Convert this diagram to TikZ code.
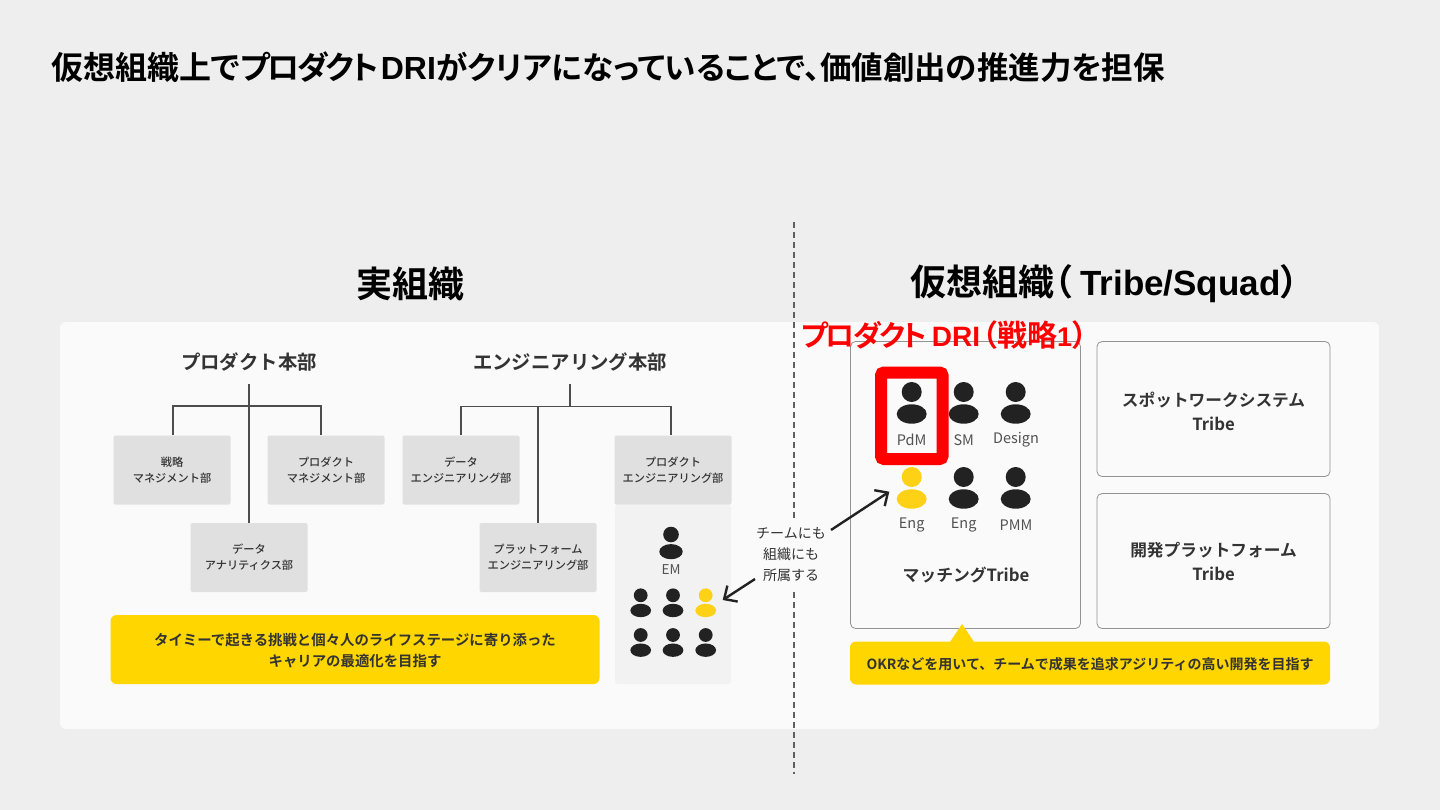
\documentclass[tikz,border=0pt]{standalone}
\usepackage{fontspec}
\setmainfont{Noto Sans CJK JP}
\newfontfamily\jb{Noto Sans CJK JP Bold}
\newfontfamily\jbp[RawFeature=+palt]{Noto Sans CJK JP Bold}
\newfontfamily\jbt[RawFeature=+palt,LetterSpace=-8]{Noto Sans CJK JP Bold}
\newfontfamily\jm{Noto Sans CJK JP Medium}
\newfontfamily\lb{Liberation Sans Bold}
\definecolor{bgc}{HTML}{EEEEEE}
\definecolor{panelc}{HTML}{FAFAFA}
\definecolor{deptc}{HTML}{E0E0E0}
\definecolor{linec}{HTML}{4D4D4D}
\definecolor{inkc}{HTML}{333333}
\definecolor{darkc}{HTML}{222222}
\definecolor{yelc}{HTML}{FFD600}
\definecolor{peryel}{HTML}{FCD116}
\definecolor{teamc}{HTML}{F2F2F2}
\usetikzlibrary{arrows.meta}
\tikzset{
 x=1pt,y=-1pt,
 dept/.style={fill=deptc,rounded corners=2pt,minimum width=117pt,minimum height=69pt,inner sep=0pt,align=center,font=\jm\fontsize{11.2}{16}\selectfont,text=inkc},
 org/.style={draw=linec,line width=1.3pt},
 head/.style={font=\jb\fontsize{19.4}{22}\selectfont,text=inkc,inner sep=0pt},
 big/.style={font=\jb\fontsize{36}{40}\selectfont,text=black,inner sep=0pt},
 tribe/.style={draw=gray!85,fill=panelc,rounded corners=5pt,line width=0.8pt,inner sep=0pt,align=center,font=\jb\fontsize{16.7}{24}\selectfont,text=inkc},
 tribelabel/.style={inner sep=0pt,align=center,font=\jb\fontsize{16.7}{24}\selectfont,text=inkc},
 banner/.style={fill=yelc,rounded corners=6pt,inner sep=0pt,text=inkc},
 bannertext/.style={inner sep=0pt,align=center,text=inkc},
 plabel/.style={font=\fontsize{14.5}{16}\selectfont,text=inkc!85,inner sep=0pt},
 arr/.style={draw=darkc,line width=2.4pt,-{Straight Barb[length=10pt,width=19pt]}},
}
\newcommand{\persona}[4]{% x,y(centre of head),colour,scale
 \fill[#3] (#1,#2) circle[radius=#4*10pt];
 \fill[#3] (#1,#2+#4*22) ellipse[x radius=#4*15pt,y radius=#4*9.7pt];
}
\begin{document}
\begin{tikzpicture}
\useasboundingbox (0,0) rectangle (1440,810);
\fill[bgc] (0,0) rectangle (1440,810);
\fill[panelc,rounded corners=6pt] (60,322) rectangle (1379,729);

\node[anchor=west,inner sep=0pt] (title) at (51,67) {\jbp\fontsize{32}{36}\selectfont 仮想組織上で{\jbt\fontsize{32}{36}\selectfont プロダクト}{\lb\fontsize{32}{36}\selectfont\hspace{2pt}DRI}{\fontsize{31.5}{36}\selectfont がクリアになっていることで、価値創出の推進力を担保}};

% divider
\coordinate (divA) at (794,222);
\coordinate (divB) at (794,774);
\draw[draw=linec!90,line width=1.5pt,dash pattern=on 6pt off 4pt] (divA) -- (divB);

\node[big] (real) at (410,284) {実組織};
\node[big,anchor=west] (virt) at (910,284) {仮想組織{\jbp（}{\lb\fontsize{35}{40}\selectfont\hspace{8pt}Tribe/Squad}{\jbp\hspace{1pt}）}};

% left org
\node[head] (hq1) at (249,362) {プロダクト本部};
\node[head] (hq2) at (570,362) {エンジニアリング本部};
\node[dept] (d1) at (172,470) {戦略\\マネジメント部};
\node[dept] (d2) at (326,470) {プロダクト\\マネジメント部};
\node[dept] (d3) at (249,557.5) {データ\\アナリティクス部};
\node[dept] (d4) at (461,470) {データ\\エンジニアリング部};
\node[dept] (d5) at (538,557.5) {プラットフォーム\\エンジニアリング部};
\node[dept] (d6) at (673,470) {プロダクト\\エンジニアリング部};

\coordinate (j1a) at (173,406);
\coordinate (j1b) at (321,406);
\coordinate (s1) at (249,384);
\draw[org] (s1) -- (d3.north);
\draw[org] (d1.north -| j1a) -- (j1a) -- (j1b) -- (d2.north -| j1b);

\coordinate (s2) at (570,384);
\coordinate (j2) at (570,406.5);
\coordinate (j2a) at (461,406.5);
\coordinate (j2b) at (671,406.5);
\draw[org] (s2) -- (j2);
\draw[org] (d4.north -| j2a) -- (j2a) -- (j2b) -- (d6.north -| j2b);
\draw[org] (538,406.5) -- (d5.north);

% team
\fill[teamc,rounded corners=3pt] (615,505) rectangle (731,684);
\persona{671}{534.5}{darkc}{0.78}
\persona{640.7}{595.3}{darkc}{0.69}
\persona{673}{595.3}{darkc}{0.69}
\persona{705.7}{595.3}{peryel}{0.69}
\persona{640.7}{635}{darkc}{0.69}
\persona{673}{635}{darkc}{0.69}
\persona{705.7}{635}{darkc}{0.69}
\node[plabel,font=\fontsize{13.5}{16}\selectfont] (em) at (671,570) {EM};

\node[banner,minimum width=489pt,minimum height=69pt] (b1) at (355,649.5) {};
\node[bannertext,font=\jb\fontsize{14.4}{21}\selectfont] (b1t) at (355,651) {タイミーで起きる挑戦と個々人のライフステージに寄り添った\\キャリアの最適化を目指す};

% note
\fill[panelc] (750,518) rectangle (834,592);
\node[align=center,inner sep=0pt,font=\fontsize{14}{21}\selectfont,text=inkc] (note) at (791,554.5) {チームにも\\組織にも\\所属する};

% tribes
\node[tribe,minimum width=230pt,minimum height=287pt] (t1) at (965.5,485) {};
\node[tribe,minimum width=233pt,minimum height=135pt] (t2) at (1213.5,409) {};
\node[tribe,minimum width=233pt,minimum height=135pt] (t3) at (1213.5,561) {};
\node[tribelabel] (t2t) at (1213.5,411.5) {スポットワークシステム\\Tribe};
\node[tribelabel] (t3t) at (1213.5,561.5) {開発プラットフォーム\\Tribe};
\node[font=\jb\fontsize{16.8}{20}\selectfont,text=inkc,inner sep=0pt] (mt) at (966,575.5) {マッチングTribe};

\persona{911.7}{392}{darkc}{1}
\persona{963.7}{392}{darkc}{1}
\persona{1015.7}{392}{darkc}{1}
\persona{911.7}{477}{peryel}{1}
\persona{963.7}{477}{darkc}{1}
\persona{1015.7}{477}{darkc}{1}
\node[plabel] (l1) at (911.7,440) {PdM};
\node[plabel] (l2) at (963.7,440) {SM};
\node[plabel] (l3) at (1016,440) {Design};
\node[plabel] (l4) at (911.7,525) {Eng};
\node[plabel] (l5) at (963.7,525) {Eng};
\node[plabel] (l6) at (1016,525) {PMM};

% banner right
\fill[yelc] (950,642) -- (962,624) -- (974,642) -- cycle;
\node[banner,minimum width=480pt,minimum height=43pt] (b2) at (1090,663) {};
\node[bannertext,font=\jb\fontsize{14}{16}\selectfont] (b2t) at (1090,664) {OKRなどを用いて、チームで成果を追求アジリティの高い開発を目指す};

% arrows
\coordinate (a1s) at (831,530);
\coordinate (a1e) at (889.3,491.7);
\coordinate (a2s) at (755,579);
\coordinate (a2e) at (722.7,600);
\draw[arr] (a1s) -- (a1e);
\draw[arr] (a2s) -- (a2e);

% red
\draw[draw=red,line width=12pt,rounded corners=3pt] (881,372.5) rectangle (942.5,459);
\node[anchor=west,inner sep=0pt,text=red] (dri) at (801,335) {\jbp\fontsize{30}{32}\selectfont{\jbt\fontsize{29}{32}\selectfont プロダクト}{\lb\fontsize{28}{32}\selectfont\hspace{5pt}DRI}\hspace{2pt}（戦略{\lb\fontsize{27}{32}\selectfont 1}\hspace{1pt}）};
\end{tikzpicture}
\end{document}
